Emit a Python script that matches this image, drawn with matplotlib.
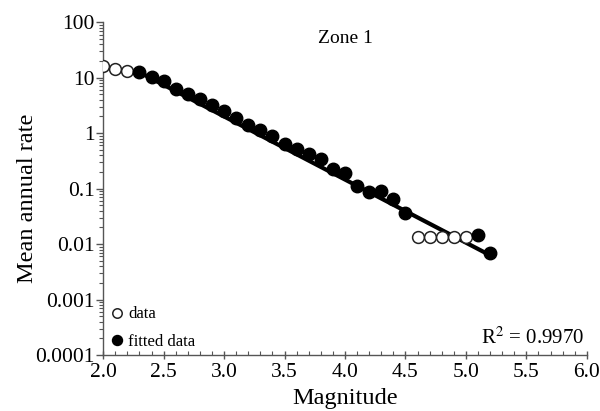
import matplotlib
matplotlib.use('Agg')
import matplotlib.pyplot as plt
from matplotlib.ticker import MultipleLocator, LogLocator, FixedLocator, FixedFormatter

plt.rcParams['font.family'] = ['Liberation Serif', 'DejaVu Serif']

# observed rates that were left out of the fit
data_mag = [2.0, 2.1, 2.2, 4.6, 4.7, 4.8, 4.9, 5.0]
data_rate = [16.3, 14.2, 13.3, 0.0135, 0.0135, 0.0135, 0.0135, 0.0135]

# rates used in the fit
fit_mag = [2.3, 2.4, 2.5, 2.6, 2.7, 2.8, 2.9, 3.0, 3.1, 3.2, 3.3, 3.4, 3.5,
           3.6, 3.7, 3.8, 3.9, 4.0, 4.1, 4.2, 4.3, 4.4, 4.5, 5.1, 5.2]
fit_rate = [12.7, 10.3, 8.6, 6.2, 5.0, 4.2, 3.2, 2.5, 1.84, 1.39, 1.13, 0.88, 0.65,
            0.51, 0.43, 0.336, 0.222, 0.193, 0.111, 0.088, 0.090, 0.064, 0.037,
            0.0145, 0.0068]

# fitted line end points
line_mag = [2.3, 5.2]
line_rate = [12.5, 0.0063]

r2 = 0.9970

fig = plt.figure(figsize=(6, 4.11), dpi=100)
ax = fig.add_axes([0.172, 0.136, 0.806, 0.810])

ax.plot(line_mag, line_rate, color='black', lw=3, zorder=2)
ax.plot(data_mag, data_rate, 'o', mfc='white', mec='#222222', mew=1.1, ms=8.5,
        ls='none', label='data', zorder=3)
ax.plot(fit_mag, fit_rate, 'o', color='black', ms=9, ls='none',
        label='fitted data', zorder=4)

ax.set_yscale('log')
ax.set_xlim(2.0, 6.0)
ax.set_ylim(1e-4, 100)

ax.xaxis.set_major_locator(MultipleLocator(0.5))
ax.xaxis.set_minor_locator(MultipleLocator(0.1))
ax.xaxis.set_major_formatter(matplotlib.ticker.FormatStrFormatter('%.1f'))
ax.yaxis.set_major_locator(FixedLocator([1e-4, 1e-3, 1e-2, 1e-1, 1, 10, 100]))
ax.yaxis.set_major_formatter(FixedFormatter(['0.0001', '0.001', '0.01', '0.1', '1', '10', '100']))
ax.yaxis.set_minor_locator(LogLocator(base=10, subs=range(2, 10), numticks=20))
ax.yaxis.set_minor_formatter(matplotlib.ticker.NullFormatter())

ax.tick_params(axis='x', which='major', direction='inout', length=6, width=1,
               labelsize=15.5, pad=3, color='#555555')
ax.tick_params(axis='x', which='minor', direction='in', length=3, width=0.8, color='#555555')
ax.tick_params(axis='y', which='major', direction='out', length=5, width=1,
               labelsize=15.5, pad=1, color='#555555')
ax.tick_params(axis='y', which='minor', direction='out', length=3, width=0.8, color='#555555')

for side in ['top', 'right']:
    ax.spines[side].set_visible(False)
for side in ['left', 'bottom']:
    ax.spines[side].set_color('#555555')
    ax.spines[side].set_linewidth(1)

ax.set_xlabel('Magnitude', fontsize=17.5, labelpad=4)
ax.set_ylabel('Mean annual rate', fontsize=17.5)
ax.yaxis.set_label_coords(-0.135, 0.47)

ax.text(0.5, 0.95, 'Zone 1', transform=ax.transAxes, ha='center', va='center', fontsize=14)
ax.text(0.995, 0.02, 'R$^2$ = 0.9970', transform=ax.transAxes, ha='right', va='bottom',
        fontsize=15, math_fontfamily='stix')

ax.legend(loc='lower left', frameon=False, fontsize=12, handletextpad=0.2,
          handlelength=1.0, borderaxespad=0.1, borderpad=0.2, labelspacing=0.7,
          markerscale=0.8)

fig.savefig('out.png', dpi=100, facecolor='white')
